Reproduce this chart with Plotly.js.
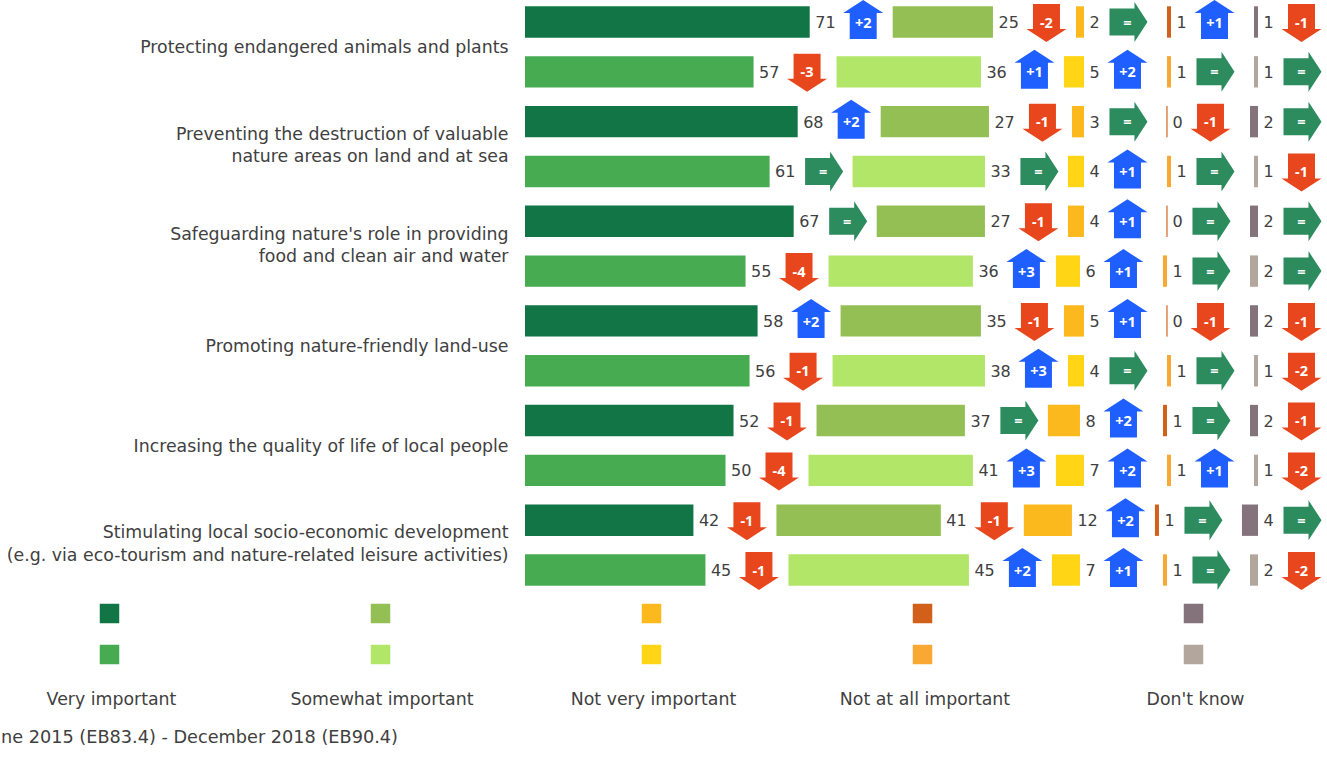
<!DOCTYPE html>
<html>
<head>
<meta charset="utf-8">
<script src="https://cdn.plot.ly/plotly-3.0.1.min.js"></script>
<style>html,body{margin:0;padding:0;background:#fff;overflow:hidden}#chart{width:1327px;height:774px}</style>
</head>
<body>
<div id="chart"></div>
<script>
// ---------- data ----------
const groupLabels = [
  "Protecting endangered animals and plants",
  "Preventing the destruction of valuable<br>nature areas on land and at sea",
  "Safeguarding nature's role in providing<br>food and clean air and water",
  "Promoting nature-friendly land-use",
  "Increasing the quality of life of local people",
  "Stimulating local socio-economic development<br>(e.g. via eco-tourism and nature-related leisure activities)"
];
const veryImportant     = [71,57,68,61,67,55,58,56,52,50,42,45];
const somewhatImportant = [25,36,27,33,27,36,35,38,37,41,41,45];
const notVeryImportant  = [2,5,3,4,4,6,5,4,8,7,12,7];
const notAtAllImportant = [1,1,0,1,0,1,0,1,1,1,1,1];
const dontKnow          = [1,1,2,1,2,2,2,1,2,1,4,2];

const veryChange     = ["+2","-3","+2","=","=","-4","+2","-1","-1","-4","-1","-1"];
const somewhatChange = ["-2","+1","-1","=","-1","+3","-1","+3","=","+3","-1","+2"];
const notVeryChange  = ["=","+2","=","+1","+1","+1","+1","=","+2","+2","+2","+1"];
const notAtAllChange = ["+1","=","-1","=","=","=","-1","=","=","+1","=","="];
const dontKnowChange = ["-1","=","=","-1","=","=","-1","-2","-1","-2","=","-2"];

const seriesNames = ["Very important","Somewhat important","Not very important","Not at all important","Don't know"];
const darkColors  = ["#117546","#94BF55","#FBB91E","#D1601A","#85737B"];
const lightColors = ["#47AB52","#B2E668","#FFD516","#F9A833","#B3A79D"];
const footnote = "ne 2015 (EB83.4) - December 2018 (EB90.4)";

// ---------- layout constants ----------
const W = 1327, H = 774;
const plotLeft = 525;
const pxPerUnit = 4.01;
const gapUnits = 83 / pxPerUnit;
const rowTopPx = 22, rowStepPx = 49.82;
const labelShift = 2 / rowStepPx;
const FONT = "DejaVu Sans";
const TEXT = "#404040";
const UP = "#1F5FFF", DOWN = "#E8471E", SAME = "#2C8C5E";

const series = [veryImportant, somewhatImportant, notVeryImportant, notAtAllImportant, dontKnow];
const changes = [veryChange, somewhatChange, notVeryChange, notAtAllChange, dontKnowChange];
const rows = veryImportant.map((_, i) => i);

const traces = [];
const shapes = [];
const bases = rows.map(() => 0);

series.forEach((vals, s) => {
  const rowColor = rows.map(i => i % 2 ? lightColors[s] : darkColors[s]);
  traces.push({
    type: "bar", orientation: "h", name: seriesNames[s],
    y: rows, x: vals, base: bases.slice(), width: 0.63,
    marker: { color: rowColor, line: { color: rowColor, width: vals.map(v => v === 0 ? 0.7 : 0) } },
    showlegend: false, hoverinfo: "skip"
  });
  const ends = rows.map(i => bases[i] + vals[i]);
  // value labels
  traces.push({
    type: "scatter", mode: "text", y: rows.map(i => i + labelShift),
    x: ends.map(e => e + 5.5 / pxPerUnit),
    text: vals.map(String), textposition: "middle right",
    textfont: { family: FONT, size: 16, color: TEXT },
    showlegend: false, hoverinfo: "skip"
  });
  // change arrows (path is in pixels around the data-anchored centre; y grows upward)
  const centers = rows.map(i => ends[i] + (vals[i] >= 10 ? 53.5 : 43.5) / pxPerUnit);
  rows.forEach(i => {
    const c = changes[s][i];
    let path, col;
    if (c[0] === "+") { col = UP;
      path = "M -13.5 -17 L -13.5 9 L -20 9 L 0 22 L 20 9 L 13.5 9 L 13.5 -17 Z";
    } else if (c[0] === "-") { col = DOWN;
      path = "M -13.5 18 L 13.5 18 L 13.5 -7 L 20 -7 L 0 -20 L -20 -7 L -13.5 -7 Z";
    } else { col = SAME;
      path = "M -18 13.5 L 7 13.5 L 7 20 L 20 0 L 7 -20 L 7 -13.5 L -18 -13.5 Z";
    }
    shapes.push({
      type: "path", xref: "x", yref: "y", xsizemode: "pixel", ysizemode: "pixel",
      xanchor: centers[i], yanchor: i, path: path,
      fillcolor: col, line: { width: 0 }, layer: "below"
    });
  });
  // change text
  traces.push({
    type: "scatter", mode: "text", y: rows.map(i => i + labelShift),
    x: centers, text: changes[s], textposition: "middle center",
    textfont: { family: "Noto Sans", size: 14.5, color: "#ffffff", weight: 700 },
    showlegend: false, hoverinfo: "skip"
  });
  rows.forEach(i => { bases[i] = ends[i] + gapUnits; });
});

// legend drawn in a full-canvas overlay
const legendX = [109.5, 380.5, 651.5, 922.5, 1193.5];
const legendTextX = [111.5, 382, 653.5, 925, 1195.5];
const legendY = [613.5, 654.5];
traces.push({
  type: "scatter", mode: "markers", xaxis: "x2", yaxis: "y2",
  x: legendX, y: legendX.map(() => legendY[0]),
  marker: { symbol: "square", size: 19.5, color: darkColors },
  showlegend: false, hoverinfo: "skip"
});
traces.push({
  type: "scatter", mode: "markers", xaxis: "x2", yaxis: "y2",
  x: legendX, y: legendX.map(() => legendY[1]),
  marker: { symbol: "square", size: 19.5, color: lightColors },
  showlegend: false, hoverinfo: "skip"
});
traces.push({
  type: "scatter", mode: "text", xaxis: "x2", yaxis: "y2",
  x: legendTextX, y: legendX.map(() => 701), text: seriesNames,
  textposition: "middle center",
  textfont: { family: FONT, size: 17.35, color: TEXT },
  showlegend: false, hoverinfo: "skip"
});

const xRange = [0, (W - plotLeft) / pxPerUnit];
const yRange = [(H - rowTopPx) / rowStepPx, -rowTopPx / rowStepPx];

const layout = {
  width: W, height: H, autosize: false,
  margin: { l: 0, r: 0, t: 0, b: 0, pad: 0 },
  paper_bgcolor: "#fff", plot_bgcolor: "rgba(0,0,0,0)",
  barmode: "overlay", showlegend: false,
  font: { family: FONT, color: TEXT },
  xaxis: { domain: [plotLeft / W, 1], range: xRange, visible: false, fixedrange: true },
  yaxis: {
    domain: [0, 1], range: yRange, anchor: "x", showgrid: false, zeroline: false, showline: false,
    tickmode: "array",
    tickvals: groupLabels.map((t, g) => 2 * g + 0.5 - (t.includes("<br>") ? 0.03 : 0)),
    ticktext: groupLabels,
    ticks: "outside", ticklen: 12, tickcolor: "rgba(0,0,0,0)",
    tickfont: { family: FONT, size: 17.35, color: TEXT }, automargin: false, fixedrange: true
  },
  xaxis2: { domain: [0, 1], range: [0, W], visible: false, anchor: "y2", fixedrange: true },
  yaxis2: { domain: [0, 1], range: [H, 0], visible: false, anchor: "x2", overlaying: "y", fixedrange: true },
  shapes: shapes,
  annotations: [{
    xref: "paper", yref: "paper", x: 0, y: 1 - 737 / H, xanchor: "left", yanchor: "middle",
    borderpad: 0, text: footnote, showarrow: false, font: { family: FONT, size: 17.7, color: TEXT }
  }]
};

Plotly.newPlot("chart", traces, layout, { staticPlot: true, displayModeBar: false });
</script>
</body>
</html>
